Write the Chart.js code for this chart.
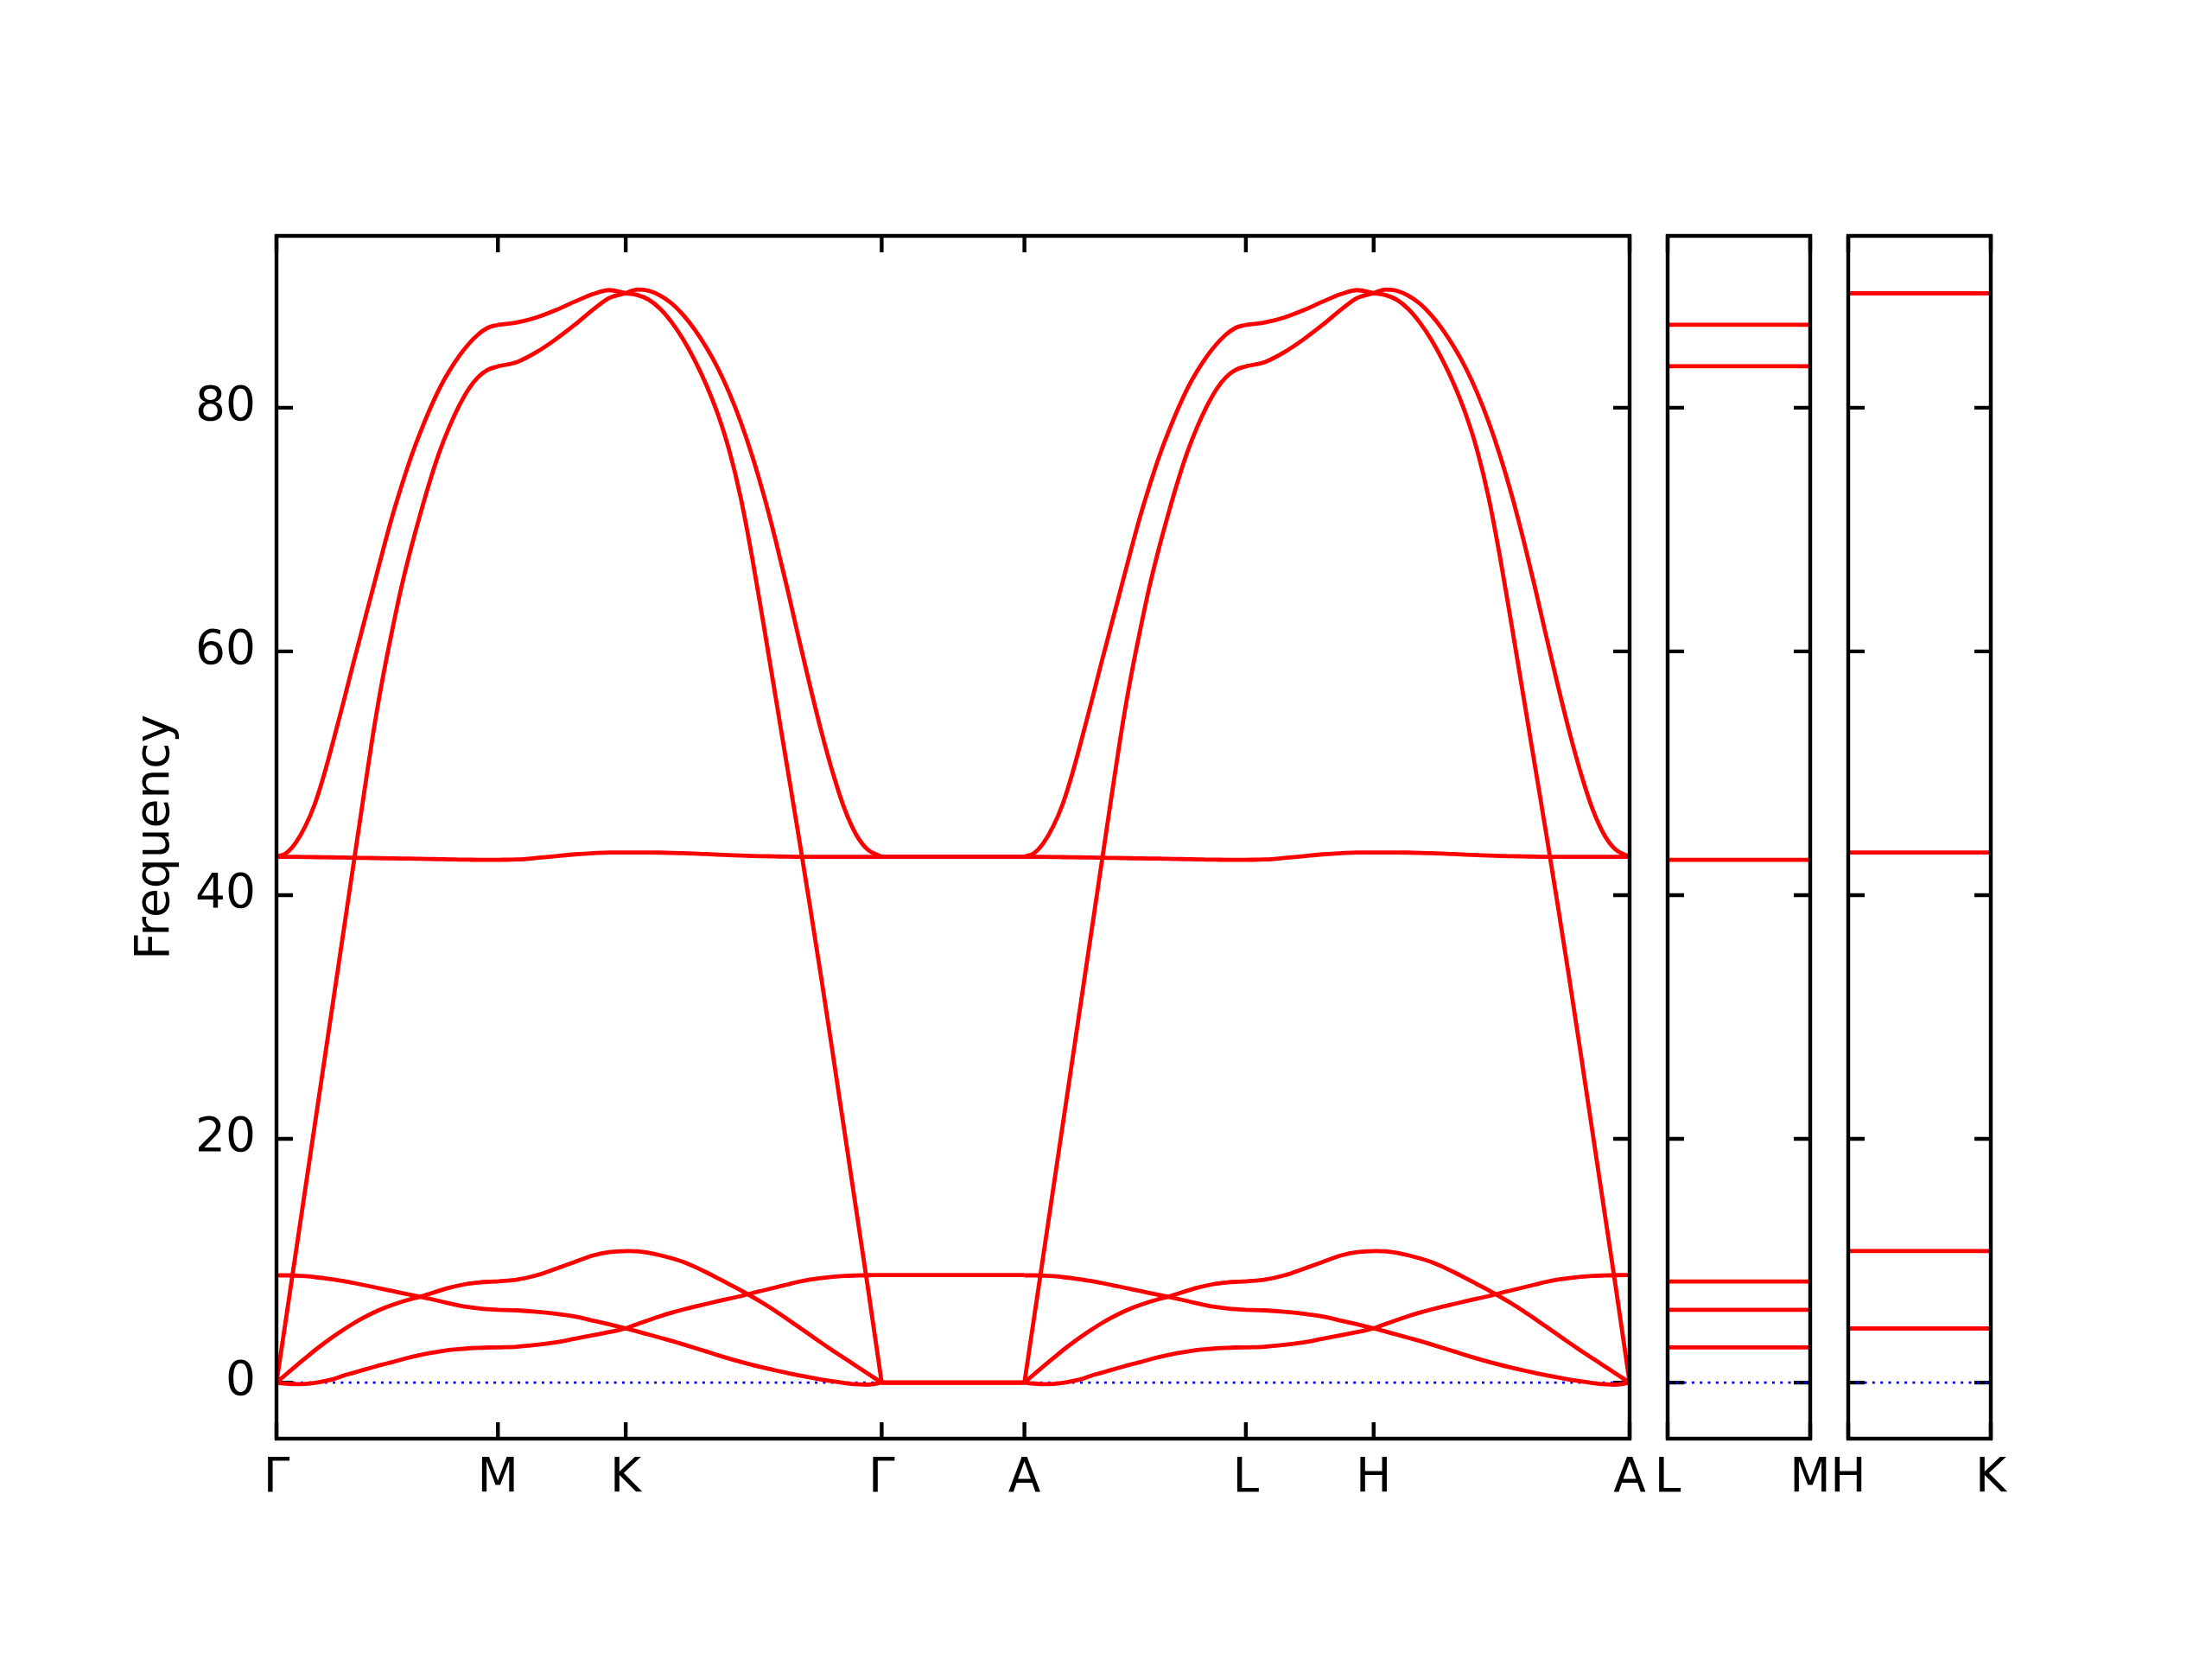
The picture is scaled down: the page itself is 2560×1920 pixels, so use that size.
<!DOCTYPE html>
<html>
<head>
<meta charset="utf-8">
<title>Phonon band structure</title>
<script src="https://cdn.jsdelivr.net/npm/chart.js@4.4.1/dist/chart.umd.min.js"></script>
<style>
  html, body { margin: 0; padding: 0; background: #fff; }
  #wrap { position: relative; width: 2560px; height: 1920px; }
  #wrap canvas { position: absolute; left: 0; top: 0; }
</style>
</head>
<body>
<div id="wrap">
  <canvas id="bands" width="2560" height="1920"></canvas>
  <canvas id="lm" width="2560" height="1920"></canvas>
  <canvas id="hk" width="2560" height="1920"></canvas>
</div>
<script>
// high-symmetry points along the path (distance in 2pi/a units)
const kTicks = [0, 0.577, 0.910, 1.577, 1.949, 2.526, 2.859, 3.526];
const kLabels = ["Γ", "M", "K", "Γ", "A", "L", "H", "A"];
const freqTicks = [0, 20, 40, 60, 80];

// sample positions inside each segment, measured from the segment start
const kGM = [0, 0.025, 0.05, 0.075, 0.10, 0.125, 0.15, 0.175, 0.20, 0.225, 0.25, 0.275,
             0.30, 0.325, 0.35, 0.375, 0.40, 0.425, 0.45, 0.475, 0.50, 0.525, 0.55, 0.577];
const kMK = [0, 0.05, 0.10, 0.15, 0.20, 0.25, 0.29, 0.333];
const kKG = [0, 0.03, 0.06, 0.09, 0.12, 0.15, 0.18, 0.21, 0.24, 0.27, 0.30, 0.33,
             0.36, 0.39, 0.42, 0.45, 0.48, 0.51, 0.54, 0.57, 0.60, 0.63, 0.667];
const kGA = [0, 0.372];

// band 1: lowest acoustic
const b1GM = [0, -0.08, -0.12, -0.1, -0.02, 0.12, 0.3, 0.58, 0.8, 1.03, 1.25, 1.47,
              1.67, 1.89, 2.09, 2.27, 2.43, 2.56, 2.67, 2.75, 2.81, 2.85, 2.88, 2.89];
const b1MK = [2.89, 2.95, 3.1, 3.3, 3.6, 3.9, 4.15, 4.45];
const b1KG = [4.45, 4.8, 5.13, 5.45, 5.74, 6.0, 6.24, 6.46, 6.68, 6.89, 7.1, 7.35,
              7.58, 7.81, 8.04, 8.27, 8.45, 8.58, 8.68, 8.75, 8.79, 8.82, 8.83];
// band 2
const b2GM = [0, 0.68, 1.35, 2.0, 2.65, 3.25, 3.82, 4.35, 4.85, 5.3, 5.7, 6.05,
              6.35, 6.62, 6.85, 7.05, 7.3, 7.55, 7.78, 7.97, 8.12, 8.21, 8.27, 8.3];
const b2MK = [8.3, 8.45, 8.8, 9.33, 9.9, 10.45, 10.7, 10.8];
const b2KG = [10.8, 10.77, 10.65, 10.45, 10.2, 9.9, 9.5, 9.05, 8.57, 8.07, 7.57, 7.04,
              6.48, 5.88, 5.24, 4.58, 3.92, 3.26, 2.62, 2.0, 1.38, 0.75, 0];
// band 3
const b3GM = [8.8, 8.8, 8.78, 8.74, 8.66, 8.57, 8.46, 8.33, 8.18, 8.02, 7.86, 7.69,
              7.53, 7.36, 7.2, 7.04, 6.87, 6.69, 6.5, 6.33, 6.2, 6.1, 6.02, 5.97];
const b3MK = [5.97, 5.93, 5.82, 5.65, 5.42, 5.07, 4.78, 4.45];
const b3KG = [4.45, 4.2, 3.94, 3.68, 3.42, 3.14, 2.85, 2.55, 2.25, 1.97, 1.7, 1.45,
              1.22, 1.0, 0.8, 0.6, 0.42, 0.25, 0.1, -0.03, -0.13, -0.17, 0];
// band 4: steep acoustic
const b4GM = [0, 5.3, 10.6, 15.9, 21.2, 26.5, 31.8, 37.1, 42.4, 47.7, 52.9, 57.5,
              61.5, 65.2, 68.4, 71.3, 74.0, 76.4, 78.4, 80.1, 81.5, 82.5, 83.1, 83.4];
const b4MK = [83.4, 83.75, 84.55, 85.6, 86.8, 88.1, 89.0, 89.4];
const b4KG = [89.4, 89.7, 89.6, 89.2, 88.55, 87.6, 86.4, 84.95, 83.25, 81.2, 78.8, 76.0,
              72.8, 69.2, 65.3, 61.2, 57.2, 53.4, 50.0, 47.1, 45.0, 43.75, 43.15];
// band 5: nearly flat optical
const b5GM = [43.15, 43.15, 43.14, 43.13, 43.12, 43.11, 43.1, 43.09, 43.07, 43.06, 43.05, 43.03,
              43.02, 43.01, 43.0, 42.98, 42.97, 42.95, 42.94, 42.92, 42.91, 42.9, 42.9, 42.9];
const b5MK = [42.9, 42.93, 43.05, 43.2, 43.35, 43.45, 43.5, 43.5];
const b5KG = [43.5, 43.5, 43.5, 43.49, 43.47, 43.44, 43.41, 43.37, 43.33, 43.29, 43.25, 43.22,
              43.2, 43.18, 43.16, 43.15, 43.15, 43.15, 43.15, 43.15, 43.15, 43.15, 43.15];
// band 6
const b6GM = [43.15, 43.45, 44.3, 45.65, 47.5, 50.0, 52.9, 55.9, 59.0, 62.0, 65.0, 68.0,
              70.9, 73.5, 75.9, 78.0, 79.9, 81.6, 83.0, 84.2, 85.2, 86.0, 86.55, 86.8];
const b6MK = [86.8, 87.0, 87.4, 88.0, 88.7, 89.35, 89.65, 89.4];
const b6KG = [89.4, 89.25, 88.86, 88.11, 87.0, 85.59, 83.88, 81.87, 79.47, 76.47, 72.57, 67.62,
              62.07, 56.37, 50.67, 44.97, 39.12, 33.12, 26.91, 20.61, 14.31, 8.01, 0];
// Γ-A is flat for every band (bands 1..6)
const freqGA = [8.83, 0, 0, 43.15, 43.15, 0];

// side panels
const lmFreqs = [2.89, 5.97, 8.3, 42.9, 83.4, 86.8];
const hkFreqs = [4.45, 4.45, 10.8, 43.5, 89.4, 89.4];
const sideLen = 0.372;

const FONT = { family: "'DejaVu Sans', sans-serif", size: 55 };
const TICK_LEN = 19;
const Y_MIN = -4.6, Y_MAX = 94.1;

const frame = {
  id: "frame",
  beforeDatasetsDraw(chart, args, opts) {
    const { ctx, chartArea: a, scales: { x, y } } = chart;
    ctx.save();
    ctx.strokeStyle = "#000";
    ctx.lineWidth = 4.4;
    ctx.beginPath();
    for (const v of opts.xTicks) {
      const px = x.getPixelForValue(v);
      ctx.moveTo(px, a.top); ctx.lineTo(px, a.top + TICK_LEN);
      ctx.moveTo(px, a.bottom); ctx.lineTo(px, a.bottom - TICK_LEN);
    }
    for (const v of freqTicks) {
      const py = y.getPixelForValue(v);
      ctx.moveTo(a.left, py); ctx.lineTo(a.left + TICK_LEN, py);
      ctx.moveTo(a.right, py); ctx.lineTo(a.right - TICK_LEN, py);
    }
    ctx.stroke();
    ctx.restore();
  },
  afterDatasetsDraw(chart) {
    const { ctx, chartArea: a } = chart;
    ctx.save();
    ctx.strokeStyle = "#000";
    ctx.lineWidth = 4.4;
    ctx.strokeRect(a.left, a.top, a.right - a.left, a.bottom - a.top);
    ctx.restore();
  }
};

function bandData(gm, mk, kg, ga) {
  const pts = [];
  const seg = (start, ks, vals) => {
    ks.forEach((k, i) => pts.push({ x: start + k, y: vals[i] }));
    pts.push({ x: start + ks[ks.length - 1], y: null });
  };
  seg(kTicks[0], kGM, gm);
  seg(kTicks[1], kMK, mk);
  seg(kTicks[2], kKG, kg);
  seg(kTicks[3], kGA, [ga, ga]);
  // A-L-H-A reads the same as Γ-M-K-Γ in the picture
  seg(kTicks[4], kGM, gm);
  seg(kTicks[5], kMK, mk);
  seg(kTicks[6], kKG, kg);
  return pts;
}

function redLine(data) {
  return {
    data, borderColor: "#ff0000", borderWidth: 4.8, pointRadius: 0,
    fill: false, spanGaps: false, cubicInterpolationMode: "monotone"
  };
}

function zeroLine(max) {
  return {
    data: [{ x: 0, y: 0 }, { x: max, y: 0 }],
    borderColor: "#0000ff", borderWidth: 2.7, borderDash: [3, 6.3],
    borderCapStyle: "butt", pointRadius: 0, order: 1
  };
}

function kAxis(max, ticks, labels) {
  return {
    type: "linear", min: 0, max,
    afterBuildTicks: s => { s.ticks = ticks.map(v => ({ value: v })); },
    afterFit: s => { s.height = 255; s.paddingLeft = 0; s.paddingRight = 0; },
    grid: { display: false, drawTicks: false },
    border: { display: false },
    ticks: {
      autoSkip: false, maxRotation: 0, minRotation: 0, padding: 14,
      color: "#000", font: FONT, callback: (v, i) => labels[i]
    }
  };
}

const common = {
  responsive: false,
  animation: false,
  events: []
};

new Chart(document.getElementById("bands"), {
  type: "line",
  data: {
    datasets: [
      redLine(bandData(b1GM, b1MK, b1KG, freqGA[0])),
      redLine(bandData(b2GM, b2MK, b2KG, freqGA[1])),
      redLine(bandData(b3GM, b3MK, b3KG, freqGA[2])),
      redLine(bandData(b4GM, b4MK, b4KG, freqGA[3])),
      redLine(bandData(b5GM, b5MK, b5KG, freqGA[4])),
      redLine(bandData(b6GM, b6MK, b6KG, freqGA[5])),
      zeroLine(kTicks[kTicks.length - 1])
    ]
  },
  options: {
    ...common,
    layout: { padding: { left: 0, right: 674, top: 273, bottom: 0 } },
    plugins: { legend: { display: false }, tooltip: { enabled: false }, frame: { xTicks: kTicks } },
    scales: {
      x: kAxis(kTicks[kTicks.length - 1], kTicks, kLabels),
      y: {
        type: "linear", min: Y_MIN, max: Y_MAX,
        afterBuildTicks: s => { s.ticks = freqTicks.map(v => ({ value: v })); },
        afterFit: s => { s.width = 320; s.paddingTop = 0; s.paddingBottom = 0; },
        grid: { display: false, drawTicks: false },
        border: { display: false },
        ticks: { color: "#000", font: FONT, padding: 24 },
        title: {
          display: true, text: "Frequency", color: "#000", font: FONT,
          padding: { top: 148, bottom: 0 }
        }
      }
    }
  },
  plugins: [frame]
});

function sidePanel(id, left, freqs, labels) {
  new Chart(document.getElementById(id), {
    type: "line",
    data: {
      datasets: freqs.map(f => redLine([{ x: 0, y: f }, { x: sideLen, y: f }]))
        .concat([zeroLine(sideLen)])
    },
    options: {
      ...common,
      layout: { padding: { left, right: 2560 - left - 165, top: 273, bottom: 0 } },
      plugins: { legend: { display: false }, tooltip: { enabled: false }, frame: { xTicks: [0, sideLen] } },
      scales: {
        x: kAxis(sideLen, [0, sideLen], labels),
        y: { type: "linear", min: Y_MIN, max: Y_MAX, display: false }
      }
    },
    plugins: [frame]
  });
}

sidePanel("lm", 1930, lmFreqs, ["L", "M"]);
sidePanel("hk", 2139, hkFreqs, ["H", "K"]);
</script>
</body>
</html>
